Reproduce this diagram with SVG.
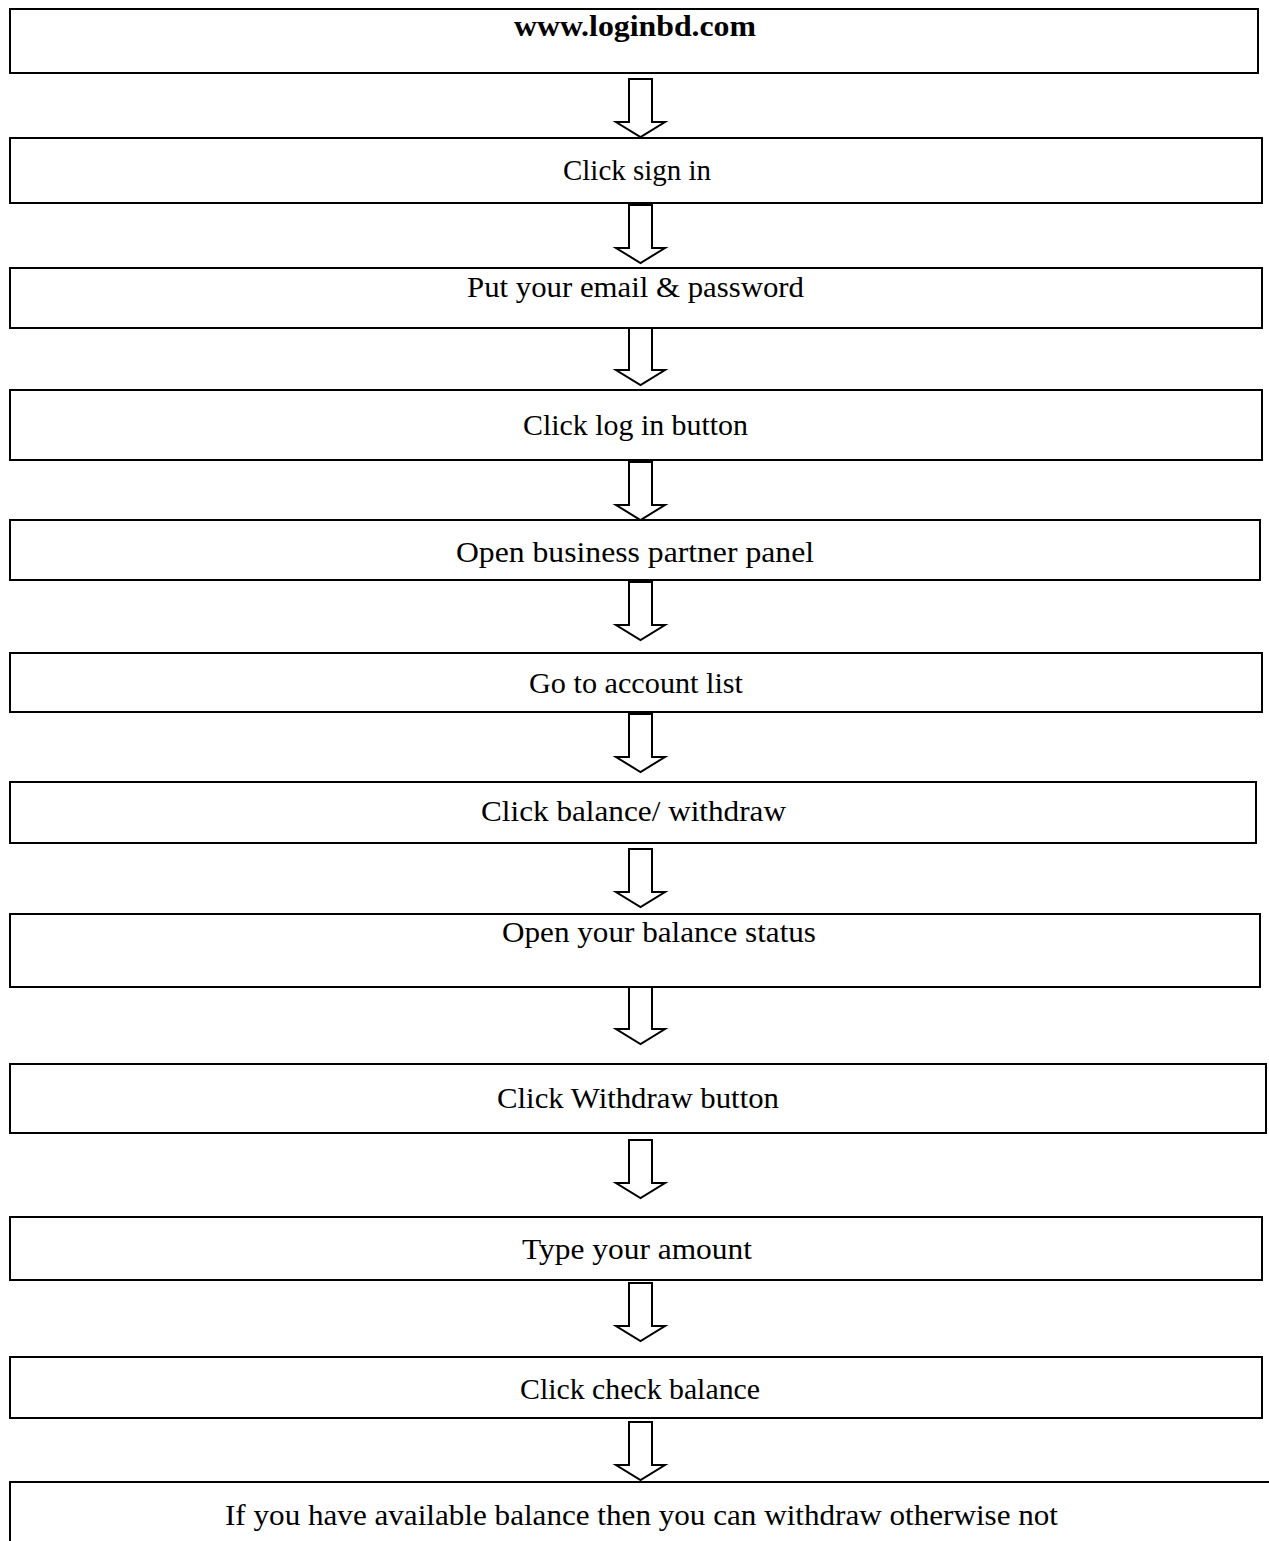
<svg xmlns="http://www.w3.org/2000/svg" width="1269" height="1541" viewBox="0 0 1269 1541">
<defs>
<style>
.box{fill:#fff;stroke:#000;stroke-width:2}
.arr{fill:#fff;stroke:#000;stroke-width:2;stroke-linejoin:miter}
.t{font-family:"Liberation Serif","DejaVu Serif",serif;font-size:30px;fill:#000;text-anchor:middle}
.b{font-weight:bold}
</style>
<path id="arrow" class="arr" d="M-11.5,0 H11.5 V43 H24.5 L0,58 L-24.5,43 H-11.5 Z"/>
</defs>
<rect width="1269" height="1541" fill="#fff"/>
<g id="connectors">
<use href="#arrow" x="640.5" y="79"/>
<use href="#arrow" x="640.5" y="205"/>
<use href="#arrow" x="640.5" y="327"/>
<use href="#arrow" x="640.5" y="462"/>
<use href="#arrow" x="640.5" y="582"/>
<use href="#arrow" x="640.5" y="714"/>
<use href="#arrow" x="640.5" y="849"/>
<use href="#arrow" x="640.5" y="986"/>
<use href="#arrow" x="640.5" y="1140"/>
<use href="#arrow" x="640.5" y="1283"/>
<use href="#arrow" x="640.5" y="1422"/>
</g>
<g id="n1"><rect class="box" x="10" y="9" width="1248" height="64"/><text class="t b" x="635" y="36" textLength="242" lengthAdjust="spacingAndGlyphs">www.loginbd.com</text></g>
<g id="n2"><rect class="box" x="10" y="138" width="1252" height="65"/><text class="t" x="637" y="180" textLength="148" lengthAdjust="spacingAndGlyphs">Click sign in</text></g>
<g id="n3"><rect class="box" x="10" y="268" width="1252" height="60"/><text class="t" x="635.5" y="297" textLength="337" lengthAdjust="spacingAndGlyphs">Put your email &amp; password</text></g>
<g id="n4"><rect class="box" x="10" y="390" width="1252" height="70"/><text class="t" x="635.5" y="435" textLength="225" lengthAdjust="spacingAndGlyphs">Click log in button</text></g>
<g id="n5"><rect class="box" x="10" y="520" width="1250" height="60"/><text class="t" x="635" y="562" textLength="358" lengthAdjust="spacingAndGlyphs">Open business partner panel</text></g>
<g id="n6"><rect class="box" x="10" y="653" width="1252" height="59"/><text class="t" x="636" y="693" textLength="214" lengthAdjust="spacingAndGlyphs">Go to account list</text></g>
<g id="n7"><rect class="box" x="10" y="782" width="1246" height="61"/><text class="t" x="633.5" y="821" textLength="305" lengthAdjust="spacingAndGlyphs">Click balance/ withdraw</text></g>
<g id="n8"><rect class="box" x="10" y="914" width="1250" height="73"/><text class="t" x="659" y="942" textLength="314" lengthAdjust="spacingAndGlyphs">Open your balance status</text></g>
<g id="n9"><rect class="box" x="10" y="1064" width="1256" height="69"/><text class="t" x="638" y="1108" textLength="282" lengthAdjust="spacingAndGlyphs">Click Withdraw button</text></g>
<g id="n10"><rect class="box" x="10" y="1217" width="1252" height="63"/><text class="t" x="637" y="1259" textLength="230" lengthAdjust="spacingAndGlyphs">Type your amount</text></g>
<g id="n11"><rect class="box" x="10" y="1357" width="1252" height="61"/><text class="t" x="640" y="1399" textLength="240" lengthAdjust="spacingAndGlyphs">Click check balance</text></g>
<g id="n12"><rect class="box" x="10" y="1482" width="1300" height="100"/><text class="t" x="641.5" y="1525" textLength="833" lengthAdjust="spacingAndGlyphs">If you have available balance then you can withdraw otherwise not</text></g>
</svg>
